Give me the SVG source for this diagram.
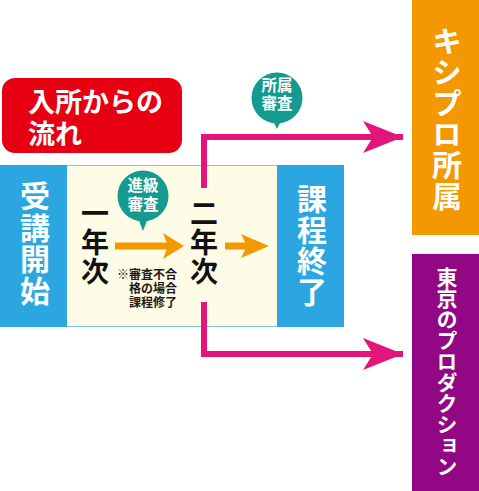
<svg xmlns="http://www.w3.org/2000/svg" width="479" height="491" viewBox="0 0 479 491">
<style>
.jp{font-family:"Noto Sans CJK JP","Noto Sans",sans-serif;font-weight:700}
.w{fill:#fff}
.k{fill:#111}
.vt{writing-mode:vertical-rl;text-orientation:upright}
.pink{stroke:#E4157A;stroke-width:6;fill:none}
.orange{fill:#F39800}
.teal{fill:#149A8E}
</style>
<defs>
<marker id="pa" viewBox="0 0 40 32" refX="40" refY="16" markerWidth="40" markerHeight="32" markerUnits="userSpaceOnUse" orient="auto">
<path d="M0,0 L40,16 L0,32 L10,16 Z" fill="#E4157A"/>
</marker>
</defs>
<rect width="479" height="491" fill="#fff"/>

<g id="title">
<rect x="2" y="78" width="180" height="75" rx="13" fill="#E60012"/>
<text class="jp w" x="28" y="112" font-size="27">入所からの</text>
<text class="jp w" x="28" y="144" font-size="27">流れ</text>
</g>

<g id="band">
<rect x="0.5" y="165.5" width="343" height="161" fill="#FEFBE6" stroke="#7FC6EA" stroke-width="1"/>
</g>

<g id="start">
<rect x="0" y="165" width="67" height="162" fill="#2CA6E0"/>
<text class="jp w vt" x="35" y="181" font-size="30" letter-spacing="1.5">受講開始</text>
</g>

<g id="end">
<rect x="277" y="165" width="67" height="162" fill="#2CA6E0"/>
<text class="jp w vt" x="312" y="184" font-size="30" letter-spacing="1">課程終了</text>
</g>

<g id="year1">
<text class="jp k vt" x="95" y="199" font-size="28" letter-spacing="1">一年次</text>
</g>

<g id="year2">
<text class="jp k vt" x="204" y="199" font-size="28" letter-spacing="1">二年次</text>
</g>

<g id="note">
<text class="jp" x="117" y="279" font-size="12" font-weight="400" fill="#231815">※審査不合</text>
<text class="jp" x="129" y="293" font-size="12" font-weight="400" fill="#231815">格の場合</text>
<text class="jp" x="129" y="307" font-size="12" font-weight="400" fill="#231815">課程修了</text>
</g>

<g id="bubble1">
<circle cx="143" cy="196" r="25.5" class="teal"/>
<path d="M138,218 L143,231 L148,218 Z" class="teal"/>
<text class="jp w" x="143" y="191" font-size="15.5" text-anchor="middle">進級</text>
<text class="jp w" x="143" y="210" font-size="15.5" text-anchor="middle">審査</text>
</g>

<g id="bubble2">
<circle cx="277" cy="98" r="25.5" class="teal"/>
<path d="M272,119 L277,129 L282,119 Z" class="teal"/>
<text class="jp w" x="277" y="91" font-size="15.5" text-anchor="middle">所属</text>
<text class="jp w" x="277" y="109" font-size="15.5" text-anchor="middle">審査</text>
</g>

<g id="kishipro">
<rect x="412" y="0" width="67" height="235" fill="#F39800"/>
<text class="jp w vt" x="447" y="26" font-size="30" letter-spacing="1">キシプロ所属</text>
</g>

<g id="tokyo">
<rect x="412" y="254" width="67" height="237" fill="#920783"/>
<text class="jp w vt" x="447" y="267" font-size="21" letter-spacing="0">東京のプロダクション</text>
</g>

<g id="connectors">
<path d="M115,246 L172,246" stroke="#F39800" stroke-width="7"/>
<path d="M163,233 L184,246 L163,259 L168,246 Z" class="orange"/>
<path d="M225,246 L252,246" stroke="#F39800" stroke-width="7"/>
<path d="M241,234 L269,246 L241,258 L247,246 Z" class="orange"/>
<path d="M204,188 L204,137 L403,137" class="pink" marker-end="url(#pa)"/>
<path d="M204,302 L204,354 L403,354" class="pink" marker-end="url(#pa)"/>
</g>
</svg>
